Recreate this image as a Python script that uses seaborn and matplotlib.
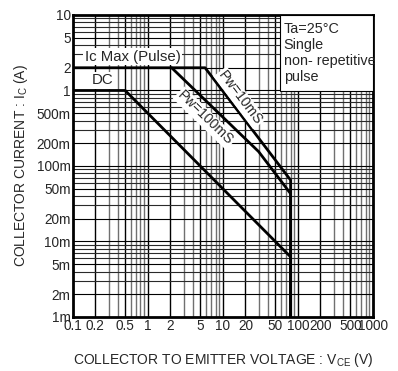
import matplotlib

matplotlib.use("Agg")
import matplotlib.pyplot as plt
import pandas as pd
import seaborn as sns
from matplotlib.patches import Rectangle

# Safe operating area curves (Vce in V, Ic in A)
dc_vce = [0.1, 0.5, 80, 80]
dc_ic = [1.0, 1.0, 0.00625, 0.001]

pw100_vce = [2.08, 30, 80, 80]
pw100_ic = [2.0, 0.155, 0.043, 0.001]

pw10_vce = [0.1, 5.8, 80, 80]
pw10_ic = [2.0, 2.0, 0.065, 0.001]

x_ticks = [0.1, 0.2, 0.5, 1, 2, 5, 10, 20, 50, 100, 200, 500, 1000]
x_tick_labels = ["0.1", "0.2", "0.5", "1", "2", "5", "10", "20", "50", "100", "200", "500", "1000"]
y_ticks = [0.001, 0.002, 0.005, 0.01, 0.02, 0.05, 0.1, 0.2, 0.5, 1, 2, 5, 10]
y_tick_labels = ["1m", "2m", "5m", "10m", "20m", "50m", "100m", "200m", "500m", "1", "2", "5", "10"]

note_lines = ["Ta=25\u00b0C", "Single", "non- repetitive", "pulse"]


def build_frame():
    parts = []
    for name, xs, ys in [("DC", dc_vce, dc_ic), ("100ms", pw100_vce, pw100_ic), ("10ms", pw10_vce, pw10_ic)]:
        parts.append(pd.DataFrame({"vce": xs, "ic": ys, "series": name}))
    return pd.concat(parts, ignore_index=True)


def main():
    sns.set_style("white")
    plt.rcParams["font.family"] = ["Liberation Sans", "DejaVu Sans"]

    fig = plt.figure(figsize=(3.98, 3.71), dpi=100)
    ax = fig.add_axes([0.1827, 0.1456, 0.7543, 0.814])
    ax.set_xscale("log")
    ax.set_yscale("log")

    # Dense log grid, drawn by hand so the 1-2-5 lines can be darker
    for dec in [0.1, 1, 10, 100]:
        for m in range(1, 10):
            v = dec * m
            if v <= 0.1 or v >= 1000:
                continue
            col = "black" if m in (1, 2, 5) else "#707070"
            ax.axvline(v, color=col, lw=1.0, zorder=1)
    for dec in [0.001, 0.01, 0.1, 1]:
        for m in range(1, 10):
            v = dec * m
            if v <= 0.001 or v >= 10:
                continue
            col = "black" if m in (1, 2, 5) else "#2a2a2a"
            ax.axhline(v, color=col, lw=0.8, zorder=1)

    df = build_frame()
    sns.lineplot(
        data=df,
        x="vce",
        y="ic",
        hue="series",
        palette={"DC": "black", "100ms": "black", "10ms": "black"},
        units="series",
        estimator=None,
        sort=False,
        linewidth=2.0,
        legend=False,
        ax=ax,
        zorder=3,
    )

    ax.set_xticks(x_ticks)
    ax.set_xticklabels(x_tick_labels, fontsize=9.8)
    ax.set_yticks(y_ticks)
    ax.set_yticklabels(y_tick_labels, fontsize=9.8)
    ax.minorticks_off()
    ax.tick_params(length=0, pad=1.5)
    ax.set_xlim(0.1, 1000)
    ax.set_ylim(0.001, 10)

    for side in ["left", "bottom", "right", "top"]:
        ax.spines[side].set_visible(True)
        ax.spines[side].set_color("black")
        ax.spines[side].set_linewidth(2)

    ax.set_xlabel("COLLECTOR TO EMITTER VOLTAGE : V$_{\\mathregular{CE}}$ (V)", fontsize=10, labelpad=13)
    ax.set_ylabel("COLLECTOR CURRENT : I$_{\\mathregular{C}}$ (A)", fontsize=10, labelpad=5)

    white = dict(facecolor="white", edgecolor="none", pad=1.0)
    ax.text(0.145, 2.8, "Ic Max (Pulse)", fontsize=10.8, ha="left", va="center", bbox=white, zorder=4)
    ax.text(0.18, 1.36, "DC", fontsize=10.8, ha="left", va="center", bbox=white, zorder=2)
    ax.text(5.8, 0.43, "Pw=100mS", fontsize=10, rotation=-44, ha="center", va="center",
            rotation_mode="anchor", bbox=white, zorder=4)
    ax.text(16.9, 0.8, "Pw=10mS", fontsize=10, rotation=-53, ha="center", va="center",
            rotation_mode="anchor", bbox=white, zorder=4)

    ax.add_patch(Rectangle((0.69, 0.748), 0.31, 0.252, transform=ax.transAxes, facecolor="white",
                           edgecolor="black", lw=0.8, zorder=5))
    ax.text(0.703, 0.978, "\n".join(note_lines), transform=ax.transAxes, fontsize=10.4,
            ha="left", va="top", linespacing=1.18, zorder=6)

    fig.savefig("out.png", dpi=100)
    plt.close(fig)


if __name__ == "__main__":
    main()
